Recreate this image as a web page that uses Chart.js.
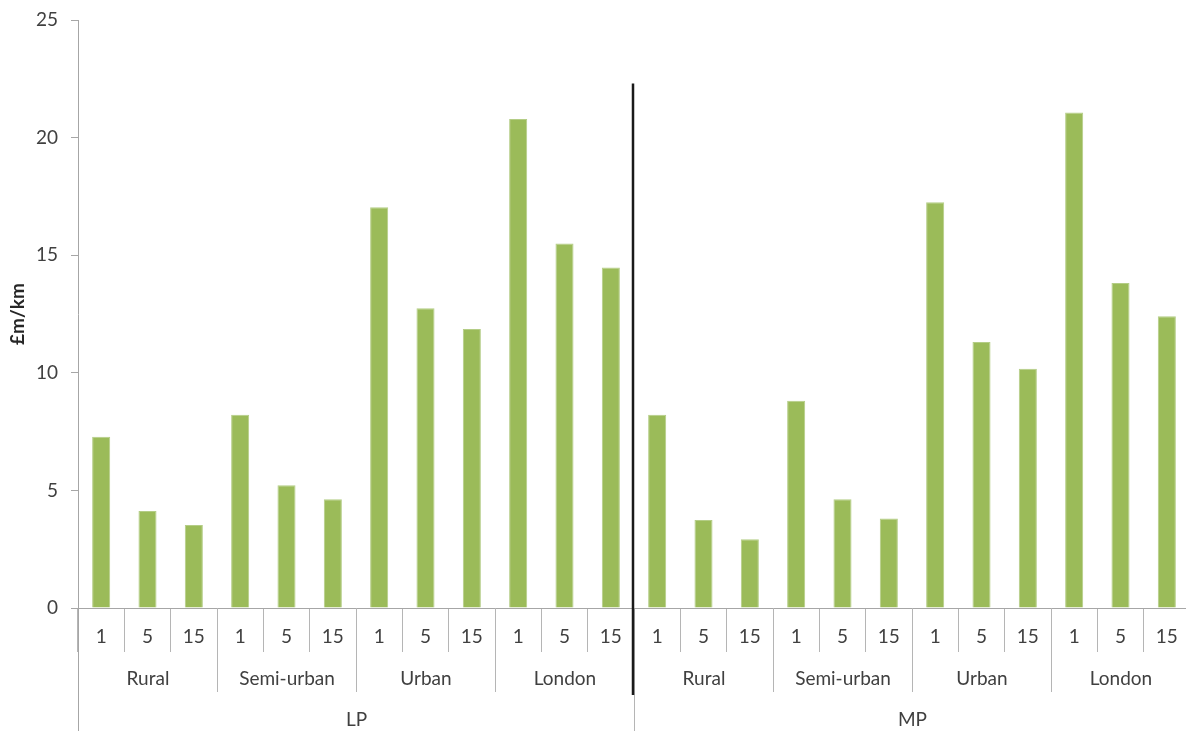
<!DOCTYPE html>
<html>
<head>
<meta charset="utf-8">
<title>£m/km by area and distance</title>
<script src="https://cdn.jsdelivr.net/npm/chart.js@4"></script>
<style>
  html, body { margin: 0; padding: 0; background: #fff; overflow: hidden; }
  canvas { display: block; }
</style>
</head>
<body>
<!-- plot runs a few px past the right edge of the window -->
<canvas id="costChart" width="1190" height="731"></canvas>
<script>
// category levels (innermost first)
const levels = ["1", "5", "15"];
const areas = ["Rural", "Semi-urban", "Urban", "London"];
const groups = ["LP", "MP"];

// £m/km per area / level
const lpValues = [7.28, 4.12, 3.53, 8.22, 5.22, 4.62, 17.04, 12.74, 11.86, 20.79, 15.50, 14.48];
const mpValues = [8.22, 3.74, 2.92, 8.81, 4.62, 3.81, 17.25, 11.31, 10.17, 21.07, 13.82, 12.40];

// y axis
const yMin = 0;
const yMax = 25;
const yStep = 5;

// LP / MP divider reaches up to this value
const dividerTop = 22.3;

const TEXT = "#404040";
const AXIS = "#a6a6a6";
const SEP = "#b5b5b5";
const FONT = "Lato, 'Open Sans', sans-serif";

// flat list of labels, one per bar
const labels = [];
groups.forEach(() => areas.forEach(() => levels.forEach(l => labels.push(l))));
const values = lpValues.concat(mpValues);

// draws the area / group rows under the axis and the LP|MP divider
const groupAxis = {
    id: "groupAxis",
    afterDraw(chart) {
        const { ctx, chartArea, scales: { x, y } } = chart;
        const step = x.getPixelForValue(1) - x.getPixelForValue(0);
        const edge = i => Math.round(x.getPixelForValue(i) - step / 2) + 0.5;
        const base = chartArea.bottom;
        const per = levels.length;
        const perGroup = per * areas.length;

        ctx.save();
        ctx.font = "19px " + FONT;
        ctx.fillStyle = TEXT;
        ctx.textAlign = "center";
        ctx.textBaseline = "middle";
        ctx.lineWidth = 1;

        // level labels
        labels.forEach((l, i) => ctx.fillText(l, x.getPixelForValue(i), base + 29));

        // area labels and separators
        ctx.strokeStyle = SEP;
        const nAreas = groups.length * areas.length;
        for (let a = 0; a <= nAreas; a++) {
            const px = edge(a * per);
            ctx.beginPath();
            ctx.moveTo(px, base);
            ctx.lineTo(px, base + 84);
            ctx.stroke();
            if (a < nAreas) {
                const mid = (edge(a * per) + edge((a + 1) * per)) / 2;
                ctx.fillText(areas[a % areas.length], mid, base + 71);
            }
        }

        // group labels and full-height separators
        for (let g = 0; g <= groups.length; g++) {
            const px = edge(g * perGroup);
            ctx.strokeStyle = g === 0 ? AXIS : SEP;
            ctx.beginPath();
            ctx.moveTo(px, base);
            ctx.lineTo(px, chart.height);
            ctx.stroke();
            if (g < groups.length) {
                const mid = (edge(g * perGroup) + edge((g + 1) * perGroup)) / 2;
                ctx.fillText(groups[g], mid, base + 112);
            }
        }

        // divider between LP and MP, sits just left of the boundary
        const dx = edge(perGroup) - 1.5;
        ctx.strokeStyle = "#1a1a1a";
        ctx.lineWidth = 2.5;
        ctx.beginPath();
        ctx.moveTo(dx, y.getPixelForValue(dividerTop));
        ctx.lineTo(dx, base + 87);
        ctx.stroke();
        ctx.restore();
    }
};

Chart.defaults.font.family = FONT;
Chart.defaults.color = TEXT;

new Chart(document.getElementById("costChart"), {
    type: "bar",
    data: {
        labels: labels,
        datasets: [{
            data: values,
            backgroundColor: "#9bbb59",
            borderColor: "#b4cd86",
            borderWidth: 1,
            categoryPercentage: 1,
            barPercentage: 0.39
        }]
    },
    options: {
        responsive: false,
        animation: false,
        layout: { padding: { top: 20, right: 0, bottom: 0, left: 0 } },
        plugins: {
            legend: { display: false },
            tooltip: { enabled: false }
        },
        scales: {
            x: {
                offset: true,
                grid: { offset: true, drawOnChartArea: false, tickLength: 44, color: SEP },
                border: { color: AXIS, width: 1 },
                ticks: { display: false },
                afterFit: scale => { scale.height = 123; }
            },
            y: {
                min: yMin,
                max: yMax,
                ticks: { stepSize: yStep, padding: 13, color: TEXT, font: { size: 19 } },
                grid: { drawOnChartArea: false, tickLength: 7, color: AXIS },
                border: { color: AXIS, width: 1 },
                title: {
                    display: true,
                    text: "£m/km",
                    color: "#262626",
                    font: { size: 19, weight: "bold" },
                    padding: { top: 6, bottom: 0 }
                },
                afterFit: scale => {
                    scale.width = 78;
                    // top of the plot is set by layout padding alone
                    scale.paddingTop = 0;
                    scale.paddingBottom = 0;
                }
            }
        }
    },
    plugins: [groupAxis]
});
</script>
</body>
</html>
